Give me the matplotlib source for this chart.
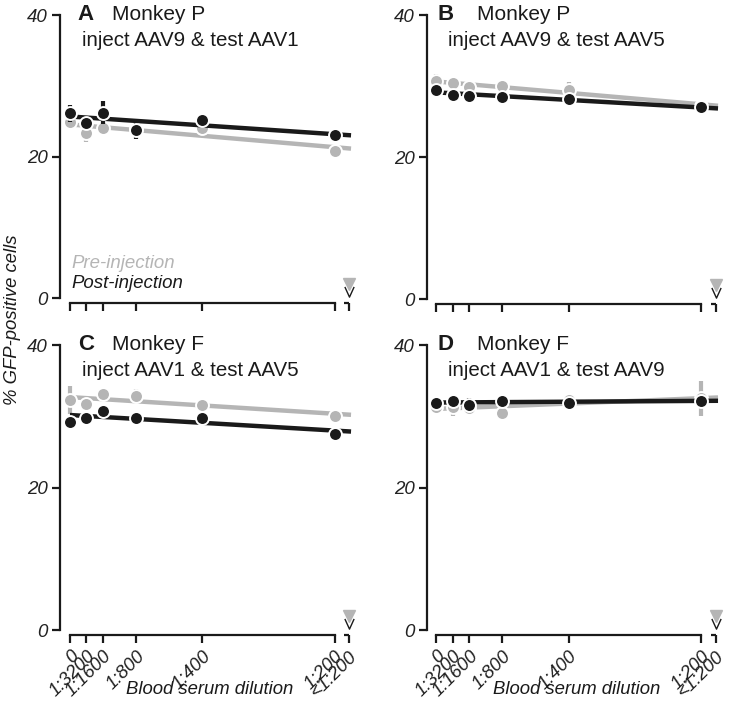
import numpy as np
import matplotlib
matplotlib.use('Agg')
import matplotlib.pyplot as plt

plt.rcParams['font.family'] = ['Liberation Sans', 'DejaVu Sans']

# dilution positions (in units of 1/3200 serum)
xPos = [0, 1, 2, 4, 8, 16]
xLt = 16.85
tickLabels = ['0', '1:3200', '1:1600', '1:800', '1:400', '1:200', '<1:200']

letters = ['A', 'B', 'C', 'D']
monkeys = ['Monkey P', 'Monkey P', 'Monkey F', 'Monkey F']
subtitles = ['inject AAV9 & test AAV1', 'inject AAV9 & test AAV5',
             'inject AAV1 & test AAV5', 'inject AAV1 & test AAV9']

preA  = [24.9, 23.3, 24.0, 24.0, 24.0, 20.8]
postA = [26.1, 24.8, 26.2, 23.8, 25.2, 23.0]
preErrA  = [0.4, 1.2, 0.5, 0.3, 0.3, 0.6]
postErrA = [1.2, 0.5, 1.6, 1.3, 0.3, 0.8]

preB  = [30.7, 30.4, 29.8, 30.0, 29.5, 27.2]
postB = [29.5, 28.8, 28.6, 28.5, 28.1, 27.0]
preErrB  = [1.0, 0.3, 0.3, 0.3, 1.0, 0.5]
postErrB = [0.6, 0.3, 0.3, 0.8, 0.9, 0.9]

preC  = [32.3, 31.7, 33.1, 32.8, 31.6, 30.1]
postC = [29.2, 29.8, 30.7, 29.8, 29.8, 27.5]
preErrC  = [2.0, 0.5, 0.3, 1.0, 0.3, 0.5]
postErrC = [0.3, 0.3, 0.4, 0.5, 0.3, 0.3]

preD  = [31.3, 31.3, 31.2, 30.5, 32.3, 32.5]
postD = [31.9, 32.2, 31.6, 32.2, 31.9, 32.2]
preErrD  = [0.8, 1.3, 0.5, 1.0, 0.4, 2.5]
postErrD = [0.3, 0.3, 1.0, 0.4, 0.3, 0.3]

ltPre = 2.0
ltPost = 0.8

pre = [preA, preB, preC, preD]
post = [postA, postB, postC, postD]
preErr = [preErrA, preErrB, preErrC, preErrD]
postErr = [postErrA, postErrB, postErrC, postErrD]

black = '#1a1a1a'
gray = '#b5b5b5'
tickCol = '#222222'

W, H = 729, 707
fig = plt.figure(figsize=(W/100, H/100), dpi=100)

# pixel boxes: left, top, right, bottom ; xlim left
boxes = [(60, 15, 356, 303, -0.6),
         (427, 15, 723, 304, -0.55),
         (60, 345, 356, 635, -0.6),
         (427, 345, 723, 635, -0.55)]

vMark = [(-1, 1.2), (0, -1), (1, 1.2)]

for i, (l, t, r, b, x0) in enumerate(boxes):
    ax = fig.add_axes([l/W, 1 - b/H, (r-l)/W, (b-t)/H])
    ax.set_xlim(x0, 17.3)
    ax.set_ylim(-0.7, 40)
    for s in ['top', 'right']:
        ax.spines[s].set_visible(False)
    ax.spines['left'].set_bounds(0, 40)
    ax.spines['bottom'].set_bounds(0, 16)
    for s in ['left', 'bottom']:
        ax.spines[s].set_linewidth(1.6)
        ax.spines[s].set_color(black)
    ax.set_yticks([0, 20, 40])
    ax.set_yticklabels(['0', '20', '40'], fontsize=13.5, style='italic', color=tickCol)
    ax.set_xticks(xPos + [xLt])
    if i >= 2:
        ax.set_xticklabels(tickLabels, rotation=45, ha='right', rotation_mode='anchor',
                           fontsize=13.5, style='italic', color=tickCol)
    else:
        ax.set_xticklabels([])
    ax.tick_params(axis='both', width=1.6, length=6, color=black)
    ax.tick_params(axis='x', pad=3)
    ax.tick_params(axis='y', pad=3)
    # little axis piece for <1:200
    ax.plot([16.6, xLt], [-0.7, -0.7], color=black, lw=1.6, clip_on=False,
            solid_capstyle='butt')

    xs = np.array(xPos, dtype=float)
    xl = np.array([0, 17.0])
    for ys, es, c, z in [(pre[i], preErr[i], gray, 2), (post[i], postErr[i], black, 3)]:
        k, m = np.polyfit(xs, ys, 1)
        ax.plot(xl, k*xl + m, color=c, lw=3.2, zorder=z, clip_on=False,
                solid_capstyle='butt')
        ax.errorbar(xs, ys, yerr=es, fmt='none', ecolor=c, elinewidth=3, capsize=0,
                    zorder=z)
        ax.plot(xs, ys, 'o', color=c, markersize=9.3, markeredgecolor='white',
                markeredgewidth=1.4, zorder=z + 0.5, clip_on=False)

    ax.plot([xLt], [ltPre], marker='v', color=gray, markersize=8, clip_on=False,
            linestyle='none')
    ax.plot([xLt], [ltPost], marker=vMark, markerfacecolor='none',
            markeredgecolor=black, markeredgewidth=1.0, markersize=8,
            clip_on=False, linestyle='none')

    fx = 0.06 if i in (0, 2) else 0.037
    ax.text(fx, 1.0, letters[i], transform=ax.transAxes, fontsize=16,
            fontweight='bold', va='center', ha='left', color=black)
    ax.text(0.176 if i in (0, 2) else 0.17, 1.0, monkeys[i], transform=ax.transAxes,
            fontsize=15, va='center', ha='left', color=black)
    ax.text(0.074 if i in (0, 2) else 0.07, 0.913, subtitles[i], transform=ax.transAxes,
            fontsize=14.8, va='center', ha='left', color=black)

    if i == 0:
        ax.text(0.1, 4.9, 'Pre-injection', fontsize=13.4, style='italic', color=gray,
                va='center')
        ax.text(0.1, 2.1, 'Post-injection', fontsize=13.4, style='italic', color=black,
                va='center')

fig.text(210/W, 1 - 690/H, 'Blood serum dilution', fontsize=13.3, style='italic',
         ha='center', va='center', color=black)
fig.text(577/W, 1 - 690/H, 'Blood serum dilution', fontsize=13.3, style='italic',
         ha='center', va='center', color=black)
fig.text(13/W, 1 - 320/H, '% GFP-positive cells', fontsize=13.3, style='italic',
         rotation=90, ha='center', va='center', color=black)

fig.savefig('out.png', dpi=100)
